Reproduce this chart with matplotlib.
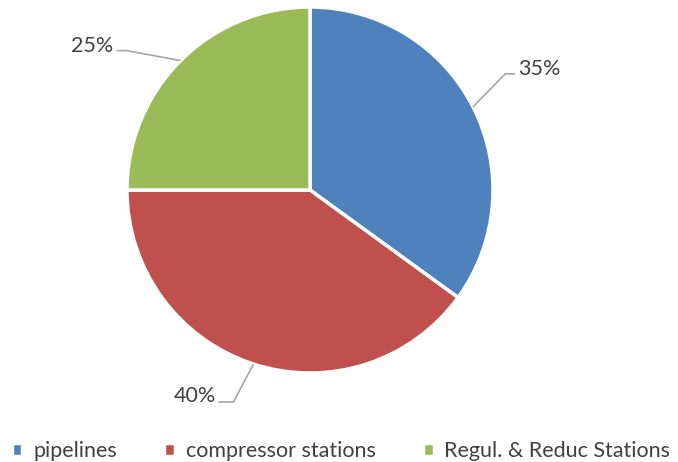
import matplotlib.pyplot as plt
import numpy as np

labels = ["pipelines", "compressor stations", "Regul. & Reduc Stations"]
shares = [35, 40, 25]
colors = ["#4F81BD", "#C0504D", "#9BBB59"]
pct_labels = ["35%", "40%", "25%"]

plt.rcParams['font.family'] = ['Lato', 'DejaVu Sans']
txt_color = "#404040"
line_color = "#A6A6A6"

W, H = 678, 462
fig = plt.figure(figsize=(W / 100, H / 100), dpi=100)
ax = fig.add_axes([0, 0, 1, 1])

cx, cy, r = 310, H - 190, 183
wedges, _ = ax.pie(shares, colors=colors, startangle=90, counterclock=False,
                   center=(cx, cy), radius=r, frame=True,
                   wedgeprops=dict(edgecolor='white', linewidth=2.5))
ax.set_xlim(0, W)
ax.set_ylim(0, H)
ax.set_aspect('equal')
ax.axis('off')

# leader lines: (elbow offset, end offset, text offset, ha)
leaders = [
    ((32, 33), (42, 33), (45, 38), 'left'),
    ((-20, -38), (-35, -38), (-37, -32), 'right'),
    ((-54, 10), (-64, 10), (-67, 15), 'right'),
]
for w, lab, (el, en, tx, ha) in zip(wedges, pct_labels, leaders):
    mid = np.deg2rad((w.theta1 + w.theta2) / 2)
    x0, y0 = cx + r * np.cos(mid), cy + r * np.sin(mid)
    ax.plot([x0, x0 + el[0], x0 + en[0]], [y0, y0 + el[1], y0 + en[1]],
            color=line_color, lw=1.2, solid_capstyle='butt')
    ax.text(x0 + tx[0], y0 + tx[1], lab, ha=ha, va='center',
            fontsize=15.5, color=txt_color)

leg = fig.legend(wedges, labels, loc='lower center', ncol=3, frameon=False,
                 bbox_to_anchor=(0.503, -0.04), fontsize=15.5, handlelength=0.5,
                 handleheight=0.5, handletextpad=0.5, columnspacing=2.2)
for t in leg.get_texts():
    t.set_color(txt_color)

fig.savefig("out.png", dpi=100)
